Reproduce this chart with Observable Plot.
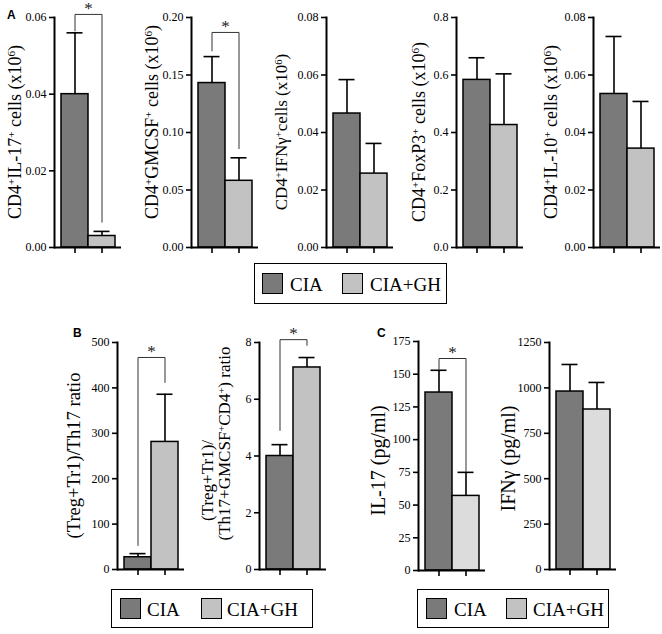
<!DOCTYPE html>
<html><head><meta charset="utf-8">
<script src="https://cdn.jsdelivr.net/npm/d3@7"></script>
<script src="https://cdn.jsdelivr.net/npm/@observablehq/plot@0.6"></script>
<style>
body{margin:0;background:#fff;}
#fig{position:relative;width:662px;height:634px;overflow:hidden;font-family:"Liberation Serif",serif;background:#fff;}
#fig svg text{font-family:"Liberation Serif",serif;}
.legend{position:absolute;border:1.5px solid #000;box-sizing:border-box;}
.sw{position:absolute;width:21px;height:21px;border:1.5px solid #000;box-sizing:border-box;}
.lt{position:absolute;font-size:19px;line-height:1;font-family:"Liberation Serif",serif;}
.letter{position:absolute;font-family:"Liberation Sans",Arial,sans-serif;font-weight:bold;font-size:12px;line-height:1;}
</style></head><body><div id="fig"></div>
<script>
// ---- data ----
const groups = ["CIA", "CIA+GH"];
// Panel A: cell numbers (x10^6), mean and SEM
const il17Cells = [0.040, 0.003];
const il17CellsErr = [0.016, 0.0012];
const gmcsfCells = [0.143, 0.058];
const gmcsfCellsErr = [0.023, 0.020];
const ifngCells = [0.0466, 0.0257];
const ifngCellsErr = [0.0118, 0.0105];
const foxp3Cells = [0.583, 0.426];
const foxp3CellsErr = [0.077, 0.178];
const il10Cells = [0.0534, 0.0344];
const il10CellsErr = [0.020, 0.0164];
// Panel B: ratios
const tregTh17Ratio = [27, 281];
const tregTh17RatioErr = [8, 105];
const tregTh17GmRatio = [4.0, 7.12];
const tregTh17GmRatioErr = [0.4, 0.35];
// Panel C: cytokines (pg/ml)
const il17Conc = [136, 57];
const il17ConcErr = [17, 18];
const ifngConc = [980, 881];
const ifngConcErr = [149, 149];
// tick values
const ticksA1 = [0, 0.02, 0.04, 0.06];
const ticksA2 = [0, 0.05, 0.10, 0.15, 0.20];
const ticksA3 = [0, 0.02, 0.04, 0.06, 0.08];
const ticksA4 = [0, 0.2, 0.4, 0.6, 0.8];
const ticksA5 = [0, 0.02, 0.04, 0.06, 0.08];
const ticksB1 = [0, 100, 200, 300, 400, 500];
const ticksB2 = [0, 2, 4, 6, 8];
const ticksC1 = [0, 25, 50, 75, 100, 125, 150, 175];
const ticksC2 = [0, 250, 500, 750, 1000, 1250];
// significance brackets: [left leg end, bracket top, right leg end]
const sigA1 = [0.0565, 0.0608, 0.0066];
const sigA2 = [0.171, 0.187, 0.086];
const sigB1 = [53, 467, 412];
const sigB2 = [4.9, 8.1, 7.9];
const sigC1 = [154, 162, 76];
// colours
const colorsAB = ["#7a7a7a", "#c2c2c2"];
const colorsC = ["#7a7a7a", "#dcdcdc"];

const fig = document.getElementById("fig");
const SERIF = "Liberation Serif, serif";

function addLabel(svg, x, y, parts, size) {
  const t = d3.select(svg).append("text")
    .attr("transform", `translate(${x},${y}) rotate(-90)`)
    .attr("text-anchor", "middle")
    .attr("font-family", SERIF)
    .attr("font-size", size)
    .attr("fill", "#000");
  parts.forEach(p => {
    if (Array.isArray(p)) {
      t.append("tspan").attr("baseline-shift", "super").attr("font-size", size * 0.62).text(p[0]);
    } else {
      t.append("tspan").text(p);
    }
  });
}

function drawPanel(p) {
  const ML = 64, MR = 12, MB = 16;
  const plotW = 67, pad = 0.24;
  const step = plotW / (2 + 2 * pad);
  const H = p.mt + p.range + MB;
  const data = groups.map((g, i) => ({group: g, value: p.values[i], top: p.values[i] + p.errors[i]}));
  const marks = [
    Plot.barY(data, {x: "group", y: "value", fill: "group", stroke: "#000", strokeWidth: 1.5}),
    Plot.ruleX(data, {x: "group", y1: "value", y2: "top", stroke: "#000", strokeWidth: 1.6}),
    Plot.tickY(data, {x: "group", y: "top", stroke: "#000", strokeWidth: 1.6, insetLeft: 5.5, insetRight: 5.5}),
    Plot.axisY({ticks: p.ticks, tickFormat: d3.format(p.fmt), tickSize: 5, tickPadding: 3,
      fontSize: 12, label: null, strokeWidth: 1.6}),
    Plot.axisX({tickSize: 6, tickFormat: () => "", label: null, strokeWidth: 1.6}),
    Plot.frame({anchor: "left", strokeWidth: 2}),
    Plot.ruleY([0], {strokeWidth: 2})
  ];
  if (p.sig) {
    const s = p.sig;
    const pts = [{group: groups[0], v: s[0]}, {group: groups[0], v: s[1]}, {group: groups[1], v: s[1]}, {group: groups[1], v: s[2]}];
    marks.push(Plot.line(pts, {x: "group", y: "v", stroke: "#333", strokeWidth: 1}));
    marks.push(Plot.text([pts[1]], {x: "group", y: "v", text: () => "*", dx: step / 2, dy: -6,
      fontSize: 17, fill: "#222"}));
  }
  const svg = Plot.plot({
    width: ML + plotW + MR, height: H,
    marginLeft: ML, marginRight: MR, marginTop: p.mt, marginBottom: MB,
    x: {domain: groups, paddingInner: 0, paddingOuter: pad, axis: null},
    y: {domain: p.domain, axis: null},
    color: {domain: groups, range: p.colors},
    style: {background: "transparent", overflow: "visible", color: "#000"},
    marks
  });
  svg.setAttribute("font-family", SERIF);
  svg.style.fontFamily = SERIF;
  svg.style.position = "absolute";
  svg.style.left = (p.axisX - ML) + "px";
  svg.style.top = p.top + "px";
  const cy = p.mt + p.range / 2;
  (p.labels || []).forEach(l => addLabel(svg, ML - l.offset, cy + (l.dy || 0), l.parts, l.size));
  fig.appendChild(svg);
}

const cellsTail = [" cells (x10", ["6"], ")"];
const panelsDef = [
  {values: il17Cells, errors: il17CellsErr, ticks: ticksA1, fmt: ".2f", domain: [0, 0.06], sig: sigA1, axisX: 54, top: 0, mt: 17, range: 230, colors: colorsAB,
   labels: [{offset: 33, size: 18, parts: ["CD4", ["+"], "IL-17", ["+"], ...cellsTail]}]},
  {values: gmcsfCells, errors: gmcsfCellsErr, ticks: ticksA2, fmt: ".2f", domain: [0, 0.2], sig: sigA2, axisX: 191, top: 0, mt: 17, range: 230, colors: colorsAB,
   labels: [{offset: 33, size: 18, dy: -10, parts: ["CD4", ["+"], "GMCSF", ["+"], ...cellsTail]}]},
  {values: ifngCells, errors: ifngCellsErr, ticks: ticksA3, fmt: ".2f", domain: [0, 0.08], axisX: 326, top: 0, mt: 17, range: 230, colors: colorsAB,
   labels: [{offset: 39, size: 17, parts: ["CD4", ["+"], "IFNγ", ["+"], "cells (x10", ["6"], ")"]}]},
  {values: foxp3Cells, errors: foxp3CellsErr, ticks: ticksA4, fmt: ".1f", domain: [0, 0.8], axisX: 456, top: 0, mt: 17, range: 230, colors: colorsAB,
   labels: [{offset: 31, size: 18, parts: ["CD4", ["+"], "FoxP3", ["+"], ...cellsTail]}]},
  {values: il10Cells, errors: il10CellsErr, ticks: ticksA5, fmt: ".2f", domain: [0, 0.08], axisX: 593, top: 0, mt: 17, range: 230, colors: colorsAB,
   labels: [{offset: 36, size: 18, parts: ["CD4", ["+"], "IL-10", ["+"], ...cellsTail]}]},
  {values: tregTh17Ratio, errors: tregTh17RatioErr, ticks: ticksB1, fmt: "d", domain: [0, 500], sig: sigB1, axisX: 117, top: 330, mt: 12, range: 227, colors: colorsAB,
   labels: [{offset: 37, size: 18.5, parts: ["(Treg+Tr1)/Th17 ratio"]}]},
  {values: tregTh17GmRatio, errors: tregTh17GmRatioErr, ticks: ticksB2, fmt: "d", domain: [0, 8], sig: sigB2, axisX: 259, top: 330, mt: 12, range: 227, colors: colorsAB,
   labels: [{offset: 46, size: 17, dy: 25, parts: ["(Treg+Tr1)/"]},
            {offset: 29, size: 17, dy: -12, parts: ["(Th17+GMCSF", ["+"], "CD4", ["+"], ") ratio"]}]},
  {values: il17Conc, errors: il17ConcErr, ticks: ticksC1, fmt: "d", domain: [0, 175], sig: sigC1, axisX: 418, top: 330, mt: 11, range: 229, colors: colorsC,
   labels: [{offset: 33, size: 20, dy: 5, parts: ["IL-17 (pg/ml)"]}]},
  {values: ifngConc, errors: ifngConcErr, ticks: ticksC2, fmt: "d", domain: [0, 1250], axisX: 549, top: 330, mt: 12, range: 227, colors: colorsC,
   labels: [{offset: 34, size: 20, dy: 3, parts: ["IFNγ (pg/ml)"]}]}
];
panelsDef.forEach(drawPanel);

// legends
function legend(box, items) {
  const d = document.createElement("div");
  d.className = "legend";
  Object.assign(d.style, {left: box[0] + "px", top: box[1] + "px", width: box[2] + "px", height: box[3] + "px"});
  fig.appendChild(d);
  items.forEach(it => {
    const s = document.createElement("div");
    s.className = "sw";
    Object.assign(s.style, {left: it.sx + "px", top: (box[1] + (box[3] - 21) / 2) + "px", background: it.color});
    fig.appendChild(s);
    const t = document.createElement("div");
    t.className = "lt";
    t.textContent = it.text;
    Object.assign(t.style, {left: it.tx + "px", top: (box[1] + (box[3] - 19) / 2 + 1) + "px"});
    fig.appendChild(t);
  });
}
legend([254, 263, 193, 41], [
  {sx: 262, tx: 290, color: colorsAB[0], text: groups[0]},
  {sx: 342, tx: 370, color: colorsAB[1], text: groups[1]}]);
legend([111, 589, 202, 39], [
  {sx: 120, tx: 147, color: colorsAB[0], text: groups[0]},
  {sx: 201, tx: 227, color: colorsAB[1], text: groups[1]}]);
legend([417, 589, 192, 39], [
  {sx: 426, tx: 454, color: colorsAB[0], text: groups[0]},
  {sx: 506, tx: 533, color: colorsAB[1], text: groups[1]}]);

// panel letters
[["A", 7, 9], ["B", 73, 327], ["C", 377, 327]].forEach(([s, x, y]) => {
  const d = document.createElement("div");
  d.className = "letter";
  d.textContent = s;
  Object.assign(d.style, {left: x + "px", top: y + "px"});
  fig.appendChild(d);
});
</script>
</body></html>
